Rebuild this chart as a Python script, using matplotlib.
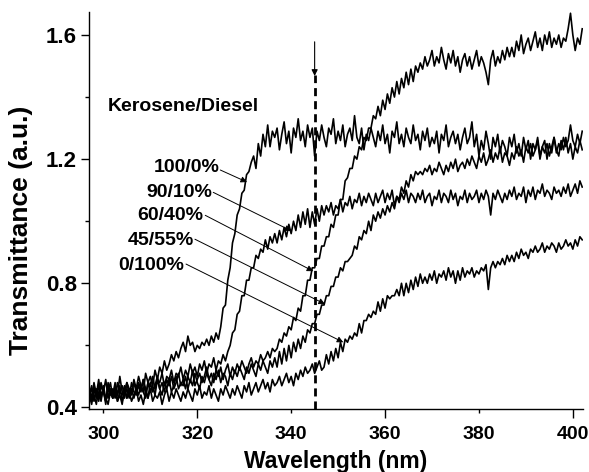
import matplotlib
matplotlib.use("Agg")
import matplotlib.pyplot as plt
import numpy as np

plt.rcParams['font.family'] = ['Liberation Sans', 'DejaVu Sans']
plt.rcParams['font.weight'] = 'bold'

# wavelength grid (nm), one point every 0.5 nm
wavelength = np.arange(297, 402.5, 0.5)

# transmittance, kerosene/diesel blends
t_100_0 = [0.45, 0.42, 0.47, 0.44, 0.49, 0.43, 0.46, 0.41, 0.48, 0.45, 0.43, 0.47, 0.44, 0.50, 0.45, 0.43, 0.48, 0.46, 0.44, 0.49,
           0.46, 0.50, 0.47, 0.45, 0.51, 0.48, 0.50, 0.47, 0.52, 0.49, 0.53, 0.51, 0.55, 0.52, 0.54, 0.57, 0.55, 0.58, 0.56, 0.59,
           0.61, 0.58, 0.63, 0.60, 0.61, 0.58, 0.60, 0.59, 0.61, 0.60, 0.62, 0.60, 0.63, 0.61, 0.64, 0.62, 0.66, 0.72, 0.73, 0.81,
           0.85, 0.93, 0.96, 1.02, 1.04, 1.09, 1.10, 1.15, 1.16, 1.19, 1.21, 1.17, 1.25, 1.21, 1.28, 1.24, 1.31, 1.24, 1.29, 1.27,
           1.30, 1.23, 1.28, 1.32, 1.25, 1.29, 1.22, 1.30, 1.27, 1.33, 1.26, 1.29, 1.24, 1.31, 1.27, 1.30, 1.21, 1.29, 1.26, 1.31,
           1.27, 1.24, 1.30, 1.28, 1.33, 1.25, 1.29, 1.26, 1.31, 1.24, 1.28, 1.30, 1.26, 1.34, 1.27, 1.25, 1.30, 1.23, 1.28, 1.26,
           1.30, 1.27, 1.24, 1.29, 1.26, 1.31, 1.25, 1.28, 1.22, 1.29, 1.27, 1.32, 1.25, 1.28, 1.24, 1.30, 1.27, 1.25, 1.31, 1.26,
           1.28, 1.23, 1.29, 1.26, 1.30, 1.24, 1.27, 1.25, 1.29, 1.22, 1.28, 1.26, 1.31, 1.24, 1.27, 1.29, 1.25, 1.28, 1.23, 1.27,
           1.30, 1.25, 1.27, 1.32, 1.24, 1.28, 1.21, 1.26, 1.23, 1.29, 1.25, 1.20, 1.27, 1.24, 1.28, 1.22, 1.26, 1.24, 1.21, 1.27,
           1.24, 1.28, 1.22, 1.25, 1.21, 1.27, 1.23, 1.26, 1.20, 1.25, 1.23, 1.27, 1.21, 1.24, 1.26, 1.20, 1.25, 1.22, 1.27, 1.23,
           1.21, 1.26, 1.23, 1.27, 1.22, 1.25, 1.20, 1.24, 1.22, 1.26, 1.23]
t_90_10 = [0.44, 0.47, 0.42, 0.46, 0.43, 0.48, 0.45, 0.42, 0.47, 0.44, 0.46, 0.43, 0.48, 0.45, 0.44, 0.47, 0.43, 0.46, 0.45, 0.48,
           0.45, 0.48, 0.46, 0.49, 0.44, 0.48, 0.47, 0.50, 0.46, 0.49, 0.48, 0.51, 0.47, 0.50, 0.49, 0.52, 0.48, 0.51, 0.50, 0.53,
           0.49, 0.52, 0.50, 0.54, 0.51, 0.53, 0.50, 0.54, 0.52, 0.55, 0.51, 0.54, 0.53, 0.56, 0.52, 0.55, 0.54, 0.57, 0.55, 0.58,
           0.60, 0.64, 0.65, 0.70, 0.71, 0.76, 0.76, 0.81, 0.81, 0.85, 0.85, 0.89, 0.88, 0.91, 0.90, 0.94, 0.91, 0.95, 0.93, 0.96,
           0.93, 0.97, 0.94, 0.98, 0.95, 0.99, 0.96, 1.00, 0.97, 1.02, 0.98, 1.03, 0.99, 1.04, 0.98, 1.03, 0.99, 1.04, 1.00, 1.05,
           1.02, 1.05, 1.03, 1.06, 1.02, 1.05, 1.04, 1.07, 1.03, 1.06, 1.05, 1.08, 1.04, 1.07, 1.06, 1.09, 1.05, 1.08, 1.06, 1.09,
           1.07, 1.05, 1.09, 1.06, 1.08, 1.10, 1.06, 1.09, 1.07, 1.10, 1.05, 1.08, 1.06, 1.09, 1.07, 1.10, 1.06, 1.09, 1.08, 1.06,
           1.09, 1.07, 1.10, 1.06, 1.08, 1.09, 1.05, 1.08, 1.07, 1.10, 1.06, 1.09, 1.08, 1.06, 1.10, 1.07, 1.09, 1.05, 1.08, 1.07,
           1.10, 1.06, 1.09, 1.07, 1.08, 1.10, 1.06, 1.09, 1.07, 1.10, 1.08, 1.02, 1.09, 1.07, 1.10, 1.08, 1.06, 1.09, 1.07, 1.10,
           1.08, 1.11, 1.07, 1.09, 1.08, 1.11, 1.06, 1.10, 1.08, 1.11, 1.07, 1.10, 1.09, 1.12, 1.08, 1.10, 1.09, 1.07, 1.11, 1.09,
           1.10, 1.08, 1.11, 1.09, 1.12, 1.08, 1.10, 1.12, 1.09, 1.13, 1.11]
t_60_40 = [0.46, 0.43, 0.48, 0.44, 0.42, 0.47, 0.45, 0.49, 0.43, 0.46, 0.44, 0.48, 0.42, 0.45, 0.47, 0.44, 0.46, 0.43, 0.48, 0.45,
           0.44, 0.47, 0.45, 0.49, 0.46, 0.43, 0.48, 0.45, 0.47, 0.50, 0.46, 0.48, 0.45, 0.49, 0.47, 0.50, 0.46, 0.48, 0.51, 0.47,
           0.49, 0.46, 0.50, 0.48, 0.52, 0.47, 0.49, 0.51, 0.48, 0.50, 0.53, 0.49, 0.51, 0.48, 0.52, 0.50, 0.53, 0.49, 0.52, 0.54,
           0.50, 0.53, 0.51, 0.54, 0.52, 0.55, 0.53, 0.51, 0.54, 0.56, 0.53, 0.55, 0.54, 0.57, 0.55, 0.56, 0.58, 0.56, 0.59, 0.58,
           0.59, 0.62, 0.61, 0.64, 0.63, 0.66, 0.65, 0.69, 0.68, 0.72, 0.71, 0.76, 0.76, 0.81, 0.81, 0.85, 0.85, 0.88, 0.88, 0.92,
           0.92, 0.95, 0.95, 0.99, 0.98, 1.02, 1.02, 1.07, 1.07, 1.13, 1.14, 1.17, 1.17, 1.21, 1.20, 1.24, 1.23, 1.27, 1.26, 1.30,
           1.30, 1.34, 1.33, 1.37, 1.34, 1.39, 1.36, 1.41, 1.38, 1.43, 1.40, 1.45, 1.41, 1.46, 1.43, 1.48, 1.44, 1.49, 1.45, 1.50,
           1.48, 1.51, 1.49, 1.53, 1.50, 1.52, 1.55, 1.50, 1.53, 1.51, 1.56, 1.52, 1.49, 1.54, 1.51, 1.55, 1.50, 1.53, 1.48, 1.52,
           1.54, 1.50, 1.53, 1.49, 1.52, 1.55, 1.50, 1.53, 1.51, 1.48, 1.44, 1.52, 1.55, 1.50, 1.53, 1.51, 1.55, 1.52, 1.56, 1.53,
           1.56, 1.53, 1.58, 1.55, 1.60, 1.54, 1.57, 1.59, 1.55, 1.58, 1.61, 1.56, 1.59, 1.55, 1.60, 1.57, 1.61, 1.56, 1.59, 1.57,
           1.60, 1.56, 1.59, 1.58, 1.62, 1.67, 1.60, 1.55, 1.59, 1.57, 1.62]
t_45_55 = [0.43, 0.46, 0.44, 0.41, 0.47, 0.44, 0.46, 0.42, 0.45, 0.48, 0.43, 0.46, 0.44, 0.47, 0.42, 0.45, 0.48, 0.44, 0.46, 0.43,
           0.46, 0.44, 0.47, 0.45, 0.43, 0.48, 0.45, 0.47, 0.44, 0.49, 0.46, 0.44, 0.48, 0.46, 0.49, 0.45, 0.47, 0.50, 0.46, 0.48,
           0.47, 0.50, 0.46, 0.49, 0.47, 0.51, 0.48, 0.46, 0.50, 0.48, 0.51, 0.49, 0.47, 0.51, 0.49, 0.52, 0.48, 0.51, 0.50, 0.47,
           0.51, 0.49, 0.52, 0.50, 0.53, 0.51, 0.49, 0.53, 0.51, 0.54, 0.52, 0.50, 0.54, 0.52, 0.55, 0.53, 0.51, 0.55, 0.53, 0.56,
           0.53, 0.58, 0.54, 0.59, 0.55, 0.60, 0.56, 0.61, 0.58, 0.62, 0.59, 0.63, 0.61, 0.65, 0.64, 0.67, 0.67, 0.70, 0.70, 0.73,
           0.73, 0.76, 0.76, 0.79, 0.79, 0.82, 0.82, 0.85, 0.84, 0.87, 0.87, 0.88, 0.89, 0.92, 0.91, 0.95, 0.94, 0.97, 0.96, 1.00,
           0.97, 1.02, 1.00, 1.03, 1.01, 1.04, 1.02, 1.05, 1.03, 1.06, 1.04, 1.08, 1.07, 1.11, 1.09, 1.13, 1.11, 1.15, 1.13, 1.16,
           1.15, 1.16, 1.15, 1.17, 1.16, 1.18, 1.15, 1.17, 1.16, 1.19, 1.17, 1.15, 1.18, 1.16, 1.19, 1.17, 1.20, 1.16, 1.18, 1.19,
           1.17, 1.20, 1.18, 1.21, 1.19, 1.17, 1.21, 1.19, 1.22, 1.18, 1.20, 1.23, 1.19, 1.22, 1.20, 1.24, 1.19, 1.22, 1.21, 1.18,
           1.22, 1.20, 1.24, 1.21, 1.23, 1.19, 1.24, 1.22, 1.25, 1.21, 1.23, 1.26, 1.20, 1.24, 1.22, 1.25, 1.21, 1.24, 1.27, 1.22,
           1.25, 1.23, 1.27, 1.24, 1.26, 1.31, 1.26, 1.24, 1.28, 1.25, 1.29]
t_0_100 = [0.44, 0.41, 0.46, 0.43, 0.45, 0.42, 0.47, 0.43, 0.41, 0.45, 0.43, 0.46, 0.42, 0.44, 0.41, 0.46, 0.43, 0.45, 0.42, 0.44,
           0.46, 0.42, 0.44, 0.41, 0.45, 0.43, 0.46, 0.42, 0.44, 0.43, 0.45, 0.41, 0.44, 0.46, 0.42, 0.45, 0.43, 0.46, 0.44, 0.42,
           0.45, 0.43, 0.46, 0.44, 0.42, 0.46, 0.44, 0.47, 0.43, 0.45, 0.44, 0.47, 0.43, 0.46, 0.44, 0.42, 0.46, 0.44, 0.47, 0.45,
           0.43, 0.46, 0.44, 0.47, 0.45, 0.43, 0.47, 0.45, 0.48, 0.44, 0.46, 0.48, 0.45, 0.47, 0.49, 0.46, 0.48, 0.45, 0.49, 0.47,
           0.48, 0.50, 0.47, 0.49, 0.51, 0.48, 0.50, 0.47, 0.51, 0.49, 0.52, 0.50, 0.53, 0.51, 0.52, 0.54, 0.51, 0.53, 0.55, 0.52,
           0.53, 0.57, 0.54, 0.58, 0.55, 0.59, 0.56, 0.61, 0.58, 0.62, 0.61, 0.63, 0.62, 0.64, 0.63, 0.67, 0.64, 0.68, 0.68, 0.70,
           0.69, 0.71, 0.70, 0.74, 0.71, 0.75, 0.72, 0.76, 0.75, 0.76, 0.76, 0.78, 0.76, 0.80, 0.76, 0.80, 0.77, 0.81, 0.78, 0.82,
           0.79, 0.83, 0.80, 0.82, 0.80, 0.83, 0.81, 0.84, 0.80, 0.83, 0.82, 0.84, 0.81, 0.85, 0.82, 0.84, 0.80, 0.84, 0.81, 0.85,
           0.82, 0.84, 0.83, 0.85, 0.82, 0.84, 0.83, 0.85, 0.84, 0.86, 0.78, 0.85, 0.87, 0.85, 0.87, 0.86, 0.88, 0.86, 0.89, 0.87,
           0.89, 0.87, 0.90, 0.88, 0.91, 0.89, 0.90, 0.88, 0.91, 0.90, 0.92, 0.90, 0.91, 0.93, 0.90, 0.92, 0.91, 0.93, 0.92, 0.90,
           0.93, 0.91, 0.92, 0.94, 0.92, 0.93, 0.91, 0.94, 0.92, 0.95, 0.94]

series = [t_100_0, t_90_10, t_60_40, t_45_55, t_0_100]
labels = ["100/0%", "90/10%", "60/40%", "45/55%", "0/100%"]

# where each label sits and where its arrow points
label_pos = [(324.7, 1.158), (323.2, 1.078), (321.3, 1.004), (319.3, 0.922), (317.2, 0.842)]
arrow_tail = [(324.9, 1.165), (323.4, 1.093), (321.7, 1.019), (319.5, 0.942), (317.6, 0.862)]
arrow_head = [(330.6, 1.126), (340.0, 0.969), (344.7, 0.839), (347.2, 0.733), (351.1, 0.610)]

marker_wl = 345

fig = plt.figure(figsize=(5.89, 4.72), dpi=100)
ax = fig.add_axes([89.3 / 589, 63 / 472, 493.4 / 589, 397.3 / 472])

for ys in series:
    ax.plot(wavelength, ys, color='black', lw=1.2)

for lab, (tx, ty), tail, head in zip(labels, label_pos, arrow_tail, arrow_head):
    ax.text(tx, ty, lab, ha='right', va='baseline', fontsize=14, fontweight='bold')
    ax.annotate('', xy=head, xytext=tail,
                arrowprops=dict(arrowstyle='-|>', color='black', lw=0.7,
                                mutation_scale=9, shrinkA=0, shrinkB=0))

ax.text(301.0, 1.355, "Kerosene/Diesel", ha='left', va='baseline', fontsize=14, fontweight='bold')

# marker at 345 nm
ax.plot([marker_wl, marker_wl], [0.395, 1.47], color='black', lw=2.0, linestyle=(0, (2.9, 1.8)))
ax.annotate('', xy=(marker_wl, 1.468), xytext=(marker_wl, 1.578),
            arrowprops=dict(arrowstyle='-|>', color='black', lw=0.8,
                            mutation_scale=9, shrinkA=0, shrinkB=0))

ax.set_xlim(297.0, 402.1)
ax.set_ylim(0.395, 1.675)

ax.spines['top'].set_visible(False)
ax.spines['right'].set_visible(False)
ax.spines['left'].set_linewidth(1.0)
ax.spines['bottom'].set_linewidth(1.0)

ax.set_xticks([320, 360, 400])
ax.set_xticklabels(['320', '360', '400'])
ax.set_xticks([300, 340, 380], minor=True)
ax.set_xticklabels(['300', '340', '380'], minor=True)
ax.set_yticks([0.4, 0.8, 1.2, 1.6])
ax.set_yticklabels(['0.4', '0.8', '1.2', '1.6'])
ax.set_yticks([0.6, 1.0, 1.4], minor=True)

ax.tick_params(axis='x', which='major', length=6.2, width=1.0, pad=6.3, labelsize=14)
ax.tick_params(axis='x', which='minor', length=3.1, width=1.0, pad=9.4, labelsize=14)
ax.tick_params(axis='y', which='major', length=6.0, width=1.0, pad=2.9, labelsize=16)
ax.tick_params(axis='y', which='minor', length=3.1, width=1.0)

ax.set_xlabel("Wavelength (nm)", fontsize=16.5, fontweight='bold')
ax.set_ylabel("Transmittance (a.u.)", fontsize=19, fontweight='bold')
ax.xaxis.set_label_coords(0.5, -0.103)
ax.yaxis.set_label_coords(-0.114, 0.45)

fig.savefig("out.png", dpi=100)
